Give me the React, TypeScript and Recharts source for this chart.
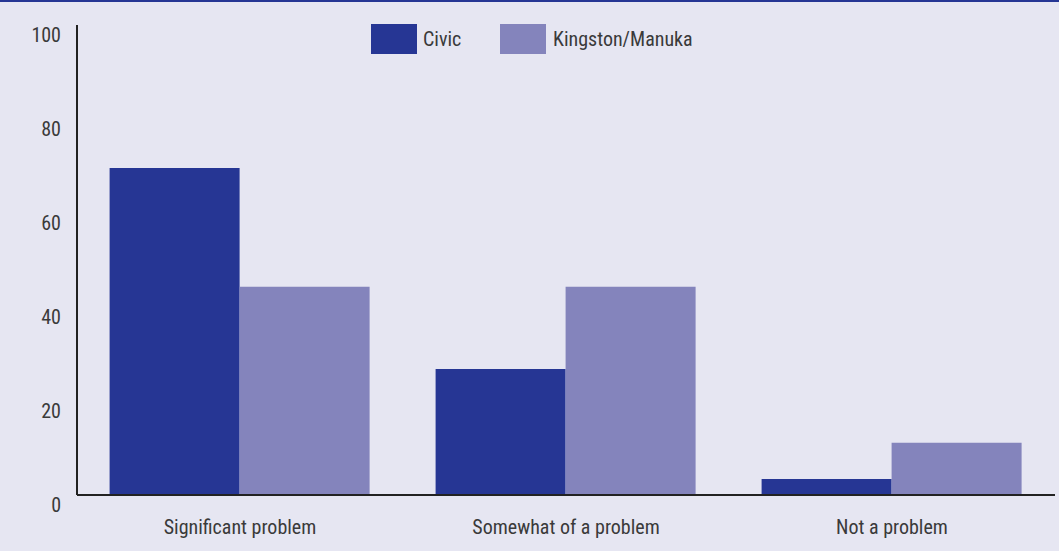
import React from "react";
import { BarChart, Bar, XAxis, YAxis, Legend } from "recharts";

const categories = ["Significant problem", "Somewhat of a problem", "Not a problem"];
const civic = [69.6, 26.8, 3.4];
const kingston = [44.3, 44.3, 11.1];
const yTicks = [0, 20, 40, 60, 80, 100];

const data = categories.map((c, i) => ({ name: c, Civic: civic[i], "Kingston/Manuka": kingston[i] }));

const FONT = "'Liberation Sans Narrow', 'Arial Narrow', 'Roboto Condensed', Roboto, sans-serif";
const C1 = "#263694";
const C2 = "#8484bc";
const TEXT = "#3a3a3a";

const LegendContent = () => (
  <div style={{ display: "flex", alignItems: "center", fontFamily: FONT, fontSize: 20, color: TEXT }}>
    <div style={{ position: "absolute", left: 371, top: 0, width: 46, height: 30, background: C1 }} />
    <div style={{ position: "absolute", left: 423, top: 3, lineHeight: "24px" }}>Civic</div>
    <div style={{ position: "absolute", left: 500, top: 0, width: 46, height: 30, background: C2 }} />
    <div style={{ position: "absolute", left: 553, top: 3, lineHeight: "24px" }}>Kingston/Manuka</div>
  </div>
);

export default function App() {
  return (
    <div
      style={{
        position: "absolute",
        left: 0,
        top: 0,
        width: 1059,
        height: 551,
        background: "#e6e6f2",
        borderTop: `2px solid ${C1}`,
        boxSizing: "border-box",
      }}
    >
      <BarChart
        width={1059}
        height={549}
        data={data}
        margin={{ top: 23, right: 4, bottom: 0, left: 0 }}
        barCategoryGap="10%"
        barGap={0}
      >
        <XAxis
          dataKey="name"
          axisLine={{ stroke: "#222", strokeWidth: 2 }}
          tickLine={false}
          tickSize={0}
          tickMargin={25}
          height={56}
          tick={{ fill: TEXT, fontSize: 20, fontFamily: FONT }}
        />
        <YAxis
          domain={[0, 100]}
          ticks={yTicks}
          width={77}
          axisLine={{ stroke: "#222", strokeWidth: 2 }}
          tickLine={false}
          tickSize={0}
          tickMargin={16}
          tick={{ fill: TEXT, fontSize: 20, fontFamily: FONT, dy: 10 }}
        />
        <Legend
          verticalAlign="top"
          content={<LegendContent />}
          wrapperStyle={{ top: 22, left: 0, width: 1059, height: 0 }}
        />
        <Bar dataKey="Civic" fill={C1} isAnimationActive={false} />
        <Bar dataKey="Kingston/Manuka" fill={C2} isAnimationActive={false} />
      </BarChart>
    </div>
  );
}
